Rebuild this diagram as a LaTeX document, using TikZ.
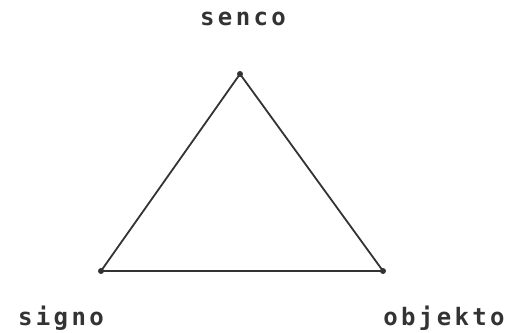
\documentclass[tikz,border=0pt]{standalone}
\usepackage{fontspec}
\setmonofont{DejaVu Sans Mono}
\usetikzlibrary{positioning}

\begin{document}
\begin{tikzpicture}[
        x=1pt, y=-1pt,
        vertex/.style={circle, fill=black!80, inner sep=0pt, minimum size=6pt},
        label/.style={font=\ttfamily\bfseries\fontsize{24}{26}\selectfont\addfontfeature{LetterSpace=14}, text=black!80, inner sep=0pt, anchor=base},
        side/.style={draw=black!80, line width=1.8pt}
    ]
        \useasboundingbox (0,0) rectangle (513,332);
        \node[vertex] (senco) at (240,74) {};
        \node[vertex] (signo) at (101,271) {};
        \node[vertex] (objekto) at (383,271) {};

        \node[label] (sencotext) at (243,25) {senco};
        \node[label] (signotext) at (61,325) {signo};
        \node[label] (objektotext) at (444,325) {objekto};

        \draw[side] (senco.center) -- (objekto.center) -- (signo.center) -- cycle;
    \end{tikzpicture}
\end{document}
